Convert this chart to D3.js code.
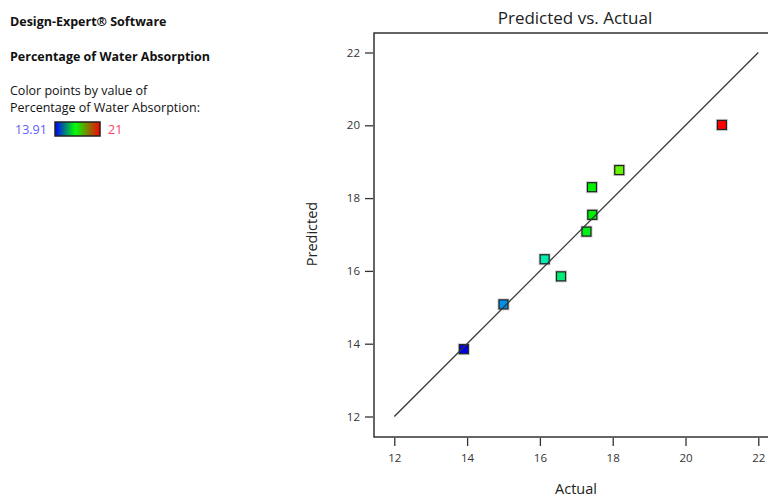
<!DOCTYPE html>
<html>
<head>
<meta charset="utf-8">
<script src="https://cdn.jsdelivr.net/npm/d3@7"></script>
<style>
  body { margin: 0; background: #fff; }
  svg { font-family: "Open Sans", "Noto Sans", sans-serif; }
</style>
</head>
<body>
<div id="wrapper"></div>
<script>
// actual vs predicted
const actual    = [13.91, 15.00, 16.13, 16.58, 17.28, 17.44, 17.43, 18.18, 21.00]
const predicted = [13.85, 15.08, 16.32, 15.85, 17.08, 17.54, 18.30, 18.77, 20.01]
const ticks = [12, 14, 16, 18, 20, 22]
const colorMin = 13.91
const colorMax = 21

const dms = {
  width: 768,
  height: 500,
  margin: { top: 33, right: -2, bottom: 63, left: 374 },
}
dms.boundedWidth = dms.width - dms.margin.left - dms.margin.right
dms.boundedHeight = dms.height - dms.margin.top - dms.margin.bottom

const svg = d3.select("#wrapper")
  .append("svg")
  .attr("width", dms.width)
  .attr("height", dms.height)

// left info panel
const info = svg.append("g").style("font-size", "12.5px").attr("fill", "#111")
info.append("text").attr("x", 10).attr("y", 26).attr("font-weight", "bold").text("Design-Expert® Software")
info.append("text").attr("x", 10).attr("y", 61).attr("font-weight", "bold").text("Percentage of Water Absorption")
info.append("text").attr("x", 10).attr("y", 95).text("Color points by value of")
info.append("text").attr("x", 10).attr("y", 112).text("Percentage of Water Absorption:")
info.append("text").attr("x", 15).attr("y", 134).attr("fill", "#5c5cff").text(colorMin)
info.append("text").attr("x", 108).attr("y", 134).attr("fill", "#ff3d5a").text(colorMax)

const grad = svg.append("defs").append("linearGradient").attr("id", "legendGrad")
grad.selectAll("stop")
  .data([["0%", "#0000ff"], ["45%", "#00ff00"], ["100%", "#ff0000"]])
  .join("stop")
  .attr("offset", d => d[0])
  .attr("stop-color", d => d[1])
svg.append("rect")
  .attr("x", 55).attr("y", 122).attr("width", 45).attr("height", 14)
  .attr("fill", "url(#legendGrad)")
  .attr("stroke", "#222").attr("stroke-width", 1.5)

// scales
const xScale = d3.scaleLinear().domain([12, 22]).range([394.3 - dms.margin.left, 758.3 - dms.margin.left])
const yScale = d3.scaleLinear().domain([12, 22]).range([416.5 - dms.margin.top, 52.5 - dms.margin.top])
const colorScale = d3.scaleLinear()
  .domain([colorMin, colorMax])
  .range(["hsl(240,100%,45%)", "hsl(0,100%,50%)"])
  .interpolate(d3.interpolateHslLong)

const bounds = svg.append("g")
  .attr("transform", `translate(${dms.margin.left},${dms.margin.top})`)

// frame
bounds.append("rect")
  .attr("width", dms.boundedWidth + 10)
  .attr("height", dms.boundedHeight)
  .attr("fill", "none")
  .attr("stroke", "#333")
  .attr("stroke-width", 1.5)

// axes
const xAxis = bounds.append("g")
  .attr("transform", `translate(0,${dms.boundedHeight + 1})`)
  .call(d3.axisBottom(xScale).tickValues(ticks).tickSize(8).tickPadding(8))
const yAxis = bounds.append("g")
  .attr("transform", `translate(-1,0)`)
  .call(d3.axisLeft(yScale).tickValues(ticks).tickSize(8).tickPadding(5))
;[xAxis, yAxis].forEach(ax => {
  ax.select(".domain").remove()
  ax.selectAll(".tick line").attr("stroke", "#333").attr("stroke-width", 1.3)
  ax.selectAll(".tick text").attr("fill", "#333").style("font-size", "11.5px").style("font-family", "'Open Sans', sans-serif")
})

// points
const pts = actual.map((a, i) => ({ a, p: predicted[i] }))
const size = 9
bounds.selectAll(".halo")
  .data(pts)
  .join("rect")
  .attr("x", d => xScale(d.a) - size / 2 - 1.5)
  .attr("y", d => yScale(d.p) - size / 2 - 1.5)
  .attr("width", size + 3)
  .attr("height", size + 3)
  .attr("fill", "#ccc")
bounds.selectAll(".pt")
  .data(pts)
  .join("rect")
  .attr("x", d => xScale(d.a) - size / 2)
  .attr("y", d => yScale(d.p) - size / 2)
  .attr("width", size)
  .attr("height", size)
  .attr("fill", d => colorScale(d.a))
  .attr("stroke", "#222")
  .attr("stroke-width", 1.2)

// 45 degree line
bounds.append("line")
  .attr("x1", xScale(12)).attr("y1", yScale(12))
  .attr("x2", xScale(22)).attr("y2", yScale(22))
  .attr("stroke", "#333")
  .attr("stroke-width", 1.2)

// titles
svg.append("text")
  .attr("x", 575).attr("y", 24)
  .attr("text-anchor", "middle")
  .style("font-size", "17px").attr("fill", "#222")
  .text("Predicted vs. Actual")
svg.append("text")
  .attr("x", 576).attr("y", 494)
  .attr("text-anchor", "middle")
  .style("font-size", "14.5px").attr("fill", "#222")
  .text("Actual")
svg.append("text")
  .attr("transform", "translate(317,234) rotate(-90)")
  .attr("text-anchor", "middle")
  .style("font-size", "14.5px").attr("fill", "#222")
  .text("Predicted")
</script>
</body>
</html>
